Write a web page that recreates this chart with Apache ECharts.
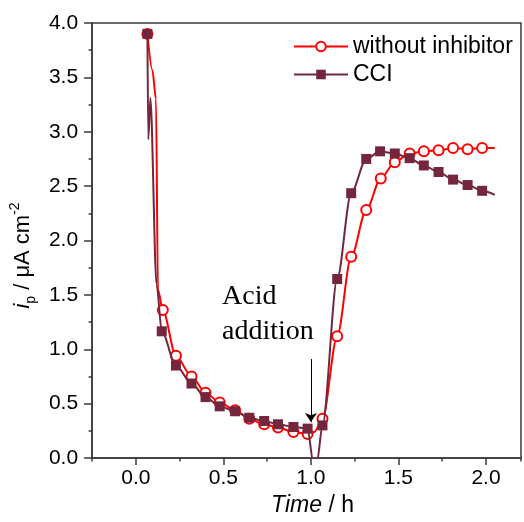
<!DOCTYPE html>
<html>
<head>
<meta charset="utf-8">
<script src="https://cdn.jsdelivr.net/npm/echarts@6/dist/echarts.min.js"></script>
<style>
  html, body { margin: 0; padding: 0; background: #fff; }
  #chart { width: 524px; height: 522px; }
</style>
</head>
<body>
<div id="chart"></div>
<script>
// without inhibitor: marker points (open circles) and extra curve points
var noInhMarkX = [0.066, 0.154, 0.229, 0.318, 0.398, 0.479, 0.567, 0.648, 0.733, 0.812, 0.900, 0.981,
                  1.066, 1.150, 1.230, 1.316, 1.399, 1.479, 1.564, 1.645, 1.729, 1.812, 1.895, 1.978];
var noInhMarkY = [3.90, 1.36, 0.94, 0.75, 0.60, 0.51, 0.44, 0.36, 0.31, 0.28, 0.24, 0.22,
                  0.36, 1.12, 1.85, 2.28, 2.57, 2.72, 2.80, 2.82, 2.83, 2.85, 2.84, 2.85];
var noInhLineX = [0.094, 0.115, 0.126, 1.020, 2.050];
var noInhLineY = [3.57, 3.30, 1.55, 0.24, 2.85];

// CCI: marker points (filled squares) and extra curve points
var cciMarkX = [0.066, 0.148, 0.229, 0.318, 0.398, 0.479, 0.567, 0.648, 0.733, 0.812, 0.900, 0.981,
                1.066, 1.150, 1.230, 1.316, 1.395, 1.479, 1.564, 1.645, 1.729, 1.812, 1.895, 1.978];
var cciMarkY = [3.90, 1.165, 0.85, 0.685, 0.56, 0.475, 0.43, 0.37, 0.34, 0.31, 0.285, 0.27,
                0.30, 1.646, 2.435, 2.75, 2.82, 2.80, 2.757, 2.69, 2.63, 2.56, 2.51, 2.457];
var cciLineX = [0.071, 0.083, 0.118, 1.012, 1.035, 2.050];
var cciLineY = [2.93, 3.31, 1.60, -0.03, -0.03, 2.42];

var xMajorTicks = [0, 0.5, 1.0, 1.5, 2.0];

function buildData(markX, markY, lineX, lineY) {
  var pts = [];
  markX.forEach(function (x, i) { pts.push({ value: [x, markY[i]] }); });
  lineX.forEach(function (x, i) { pts.push({ value: [x, lineY[i]], symbol: 'none' }); });
  pts.sort(function (a, b) { return a.value[0] - b.value[0]; });
  return pts;
}

var sans = '"Liberation Sans", Arial, sans-serif';
var axisColor = '#3a3a3a';

var option = {
  animation: false,
  backgroundColor: '#fff',
  grid: {
    left: 89, right: 3, top: 23, bottom: 56,
    show: true, borderColor: axisColor, borderWidth: 1.5
  },
  legend: {
    orient: 'vertical',
    left: 293, top: 35, padding: 0,
    itemWidth: 54, itemHeight: 12, itemGap: 5,
    textStyle: { fontFamily: sans, fontSize: 23, color: '#000', lineHeight: 22 },
    data: ['without inhibitor', 'CCI']
  },
  xAxis: [{
    type: 'value',
    min: -0.25, max: 2.2, interval: 0.25,
    name: '{it|Time}{n| / h}',
    nameLocation: 'middle', nameGap: 36,
    nameTextStyle: {
      padding: [0, 0, 0, 12],
      rich: {
        it: { fontFamily: sans, fontSize: 23, fontStyle: 'italic', color: '#000' },
        n: { fontFamily: sans, fontSize: 23, color: '#000' }
      }
    },
    splitLine: { show: false },
    axisLine: { onZero: false, lineStyle: { color: axisColor, width: 1.5 } },
    axisTick: { length: 3.5, lineStyle: { color: axisColor, width: 1.5 } },
    axisLabel: {
      fontFamily: sans, fontSize: 21, color: '#000', margin: 10,
      formatter: function (v) {
        var d = v * 2;
        return Math.abs(d - Math.round(d)) < 1e-6 ? v.toFixed(1) : '';
      }
    }
  }, {
    type: 'value',
    position: 'bottom',
    min: -0.25, max: 2.2, interval: 0.25,
    splitLine: { show: false },
    axisLine: { show: false, onZero: false },
    axisLabel: { show: false },
    axisTick: { length: 7, customValues: xMajorTicks, lineStyle: { color: axisColor, width: 1.5 } }
  }],
  yAxis: {
    type: 'value',
    min: 0, max: 4, interval: 0.5,
    name: '{i|i}{sub|p}{n| / μA cm}{sup|-2}',
    nameLocation: 'middle', nameGap: 52,
    nameTextStyle: {
      padding: [0, 30, 0, 0],
      rich: {
        i: { fontFamily: sans, fontSize: 22, fontStyle: 'italic', color: '#000', lineHeight: 30 },
        sub: { fontFamily: sans, fontSize: 14, color: '#000', verticalAlign: 'bottom', lineHeight: 14 },
        n: { fontFamily: sans, fontSize: 22, color: '#000', lineHeight: 30 },
        sup: { fontFamily: sans, fontSize: 14, color: '#000', verticalAlign: 'top', lineHeight: 14 }
      }
    },
    splitLine: { show: false },
    axisLine: { onZero: false, lineStyle: { color: axisColor, width: 1.5 } },
    axisTick: { length: 8, lineStyle: { color: axisColor, width: 1.5 } },
    minorTick: { show: true, splitNumber: 2, length: 3.5, lineStyle: { color: axisColor, width: 1.5 } },
    axisLabel: {
      fontFamily: sans, fontSize: 21, color: '#000', margin: 14,
      formatter: function (v) { return v.toFixed(1); }
    }
  },
  series: [{
    name: 'without inhibitor',
    type: 'line',
    data: buildData(noInhMarkX, noInhMarkY, noInhLineX, noInhLineY),
    smooth: 0.3,
    smoothMonotone: 'x',
    symbol: 'emptyCircle',
    symbolSize: 10,
    showAllSymbol: true,
    lineStyle: { color: '#ff0000', width: 2 },
    itemStyle: { color: '#ff0000', borderWidth: 1.3 },
    z: 2,
    markLine: {
      silent: true,
      symbol: ['none', 'arrow'],
      symbolSize: 9,
      label: { show: false },
      lineStyle: { color: '#000', width: 1, type: 'solid' },
      data: [[{ coord: [1.0, 0.91] }, { coord: [1.0, 0.33] }]]
    },
    markPoint: {
      silent: true,
      symbol: 'circle',
      symbolSize: 1,
      itemStyle: { color: 'rgba(0,0,0,0)' },
      data: [{
        coord: [0.492, 1.32],
        label: {
          show: true,
          position: 'inside',
          formatter: 'Acid\naddition',
          fontFamily: '"Liberation Serif", "Times New Roman", serif',
          fontSize: 28, lineHeight: 35, color: '#000',
          align: 'left', verticalAlign: 'middle'
        }
      }]
    }
  }, {
    name: 'CCI',
    type: 'line',
    data: buildData(cciMarkX, cciMarkY, cciLineX, cciLineY),
    smooth: 0.3,
    smoothMonotone: 'x',
    symbol: 'rect',
    symbolSize: 10,
    showAllSymbol: true,
    lineStyle: { color: '#73263c', width: 2 },
    itemStyle: { color: '#73263c' },
    z: 3
  }]
};

var chart = echarts.init(document.getElementById('chart'));
chart.setOption(option);
</script>
</body>
</html>
